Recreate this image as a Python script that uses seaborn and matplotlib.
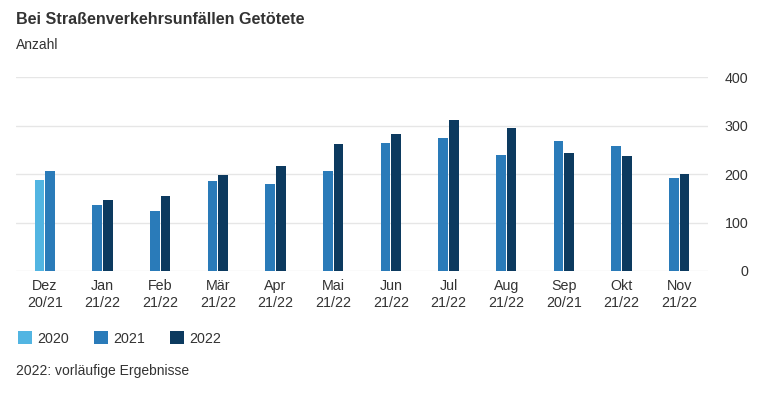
import matplotlib
matplotlib.use("Agg")
import matplotlib.pyplot as plt
from matplotlib.patches import Patch
import seaborn as sns
import pandas as pd

months = ["Dez\n20/21", "Jan\n21/22", "Feb\n21/22", "Mär\n21/22", "Apr\n21/22", "Mai\n21/22",
          "Jun\n21/22", "Jul\n21/22", "Aug\n21/22", "Sep\n20/21", "Okt\n21/22", "Nov\n21/22"]
first_vals = [187, 136, 123, 185, 180, 207, 264, 275, 239, 268, 259, 193]
second_vals = [207, 147, 154, 198, 216, 262, 282, 312, 295, 244, 238, 200]
first_year = ["2020"] + ["2021"] * 11
second_year = ["2021"] + ["2022"] * 11
years = ["2020", "2021", "2022"]
year_colors = {"2020": "#52b5e2", "2021": "#2a7bb9", "2022": "#0c3a5f"}

rows = []
for m, v1, v2, y1, y2 in zip(months, first_vals, second_vals, first_year, second_year):
    rows.append({"month": m, "slot": "a", "value": v1, "year": y1})
    rows.append({"month": m, "slot": "b", "value": v2, "year": y2})
df = pd.DataFrame(rows)

sns.set_theme(style="white")
plt.rcParams["font.family"] = ["Liberation Sans", "DejaVu Sans"]
text_color = "#333333"

fig = plt.figure(figsize=(7.7, 3.95), dpi=100)
ax = fig.add_axes([16 / 770, 1 - 271 / 395, (708 - 16) / 770, (271 - 77.3) / 395])

sns.barplot(data=df, x="month", y="value", hue="slot", hue_order=["a", "b"], order=months,
            dodge=True, width=0.37, gap=0.08, legend=False, ax=ax, saturation=1)

year_lists = {"a": first_year, "b": second_year}
for cont, slot in zip(ax.containers, ["a", "b"]):
    for bar, yr in zip(cont, year_lists[slot]):
        bar.set_facecolor(year_colors[yr])
        bar.set_edgecolor("none")

ax.set_ylim(0, 400)
ax.set_xlim(-0.5, 11.5)
ax.set_yticks([0, 100, 200, 300, 400])
ax.yaxis.tick_right()
ax.tick_params(axis="y", length=0, pad=29, labelsize=10.3, labelcolor=text_color)
for lab in ax.get_yticklabels():
    lab.set_horizontalalignment("right")
ax.tick_params(axis="x", length=0, pad=6, labelsize=10.3, labelcolor=text_color)
ax.set_xlabel("")
ax.set_ylabel("")
ax.grid(axis="y", color="#e6e6e6", linewidth=1)
ax.set_axisbelow(True)
for s in ax.spines.values():
    s.set_visible(False)

fig.text(16 / 770, 1 - 19 / 395, "Bei Straßenverkehrsunfällen Getötete", fontsize=11.6,
         fontweight="bold", color=text_color, va="center", ha="left")
fig.text(16 / 770, 1 - 45 / 395, "Anzahl", fontsize=10, color=text_color, va="center", ha="left")
fig.text(16 / 770, 1 - 371 / 395, "2022: vorläufige Ergebnisse", fontsize=10, color=text_color,
         va="center", ha="left")

handles = [Patch(facecolor=year_colors[y], edgecolor="none", label=y) for y in years]
leg = fig.legend(handles=handles, loc="center left", bbox_to_anchor=(18 / 770, 1 - 338.5 / 395),
                 ncol=3, frameon=False, fontsize=10.3, handlelength=0.95, handleheight=0.95,
                 handletextpad=0.4, columnspacing=1.75, borderaxespad=0, borderpad=0)
for t in leg.get_texts():
    t.set_color(text_color)

fig.savefig("out.png", dpi=100, facecolor="white")
